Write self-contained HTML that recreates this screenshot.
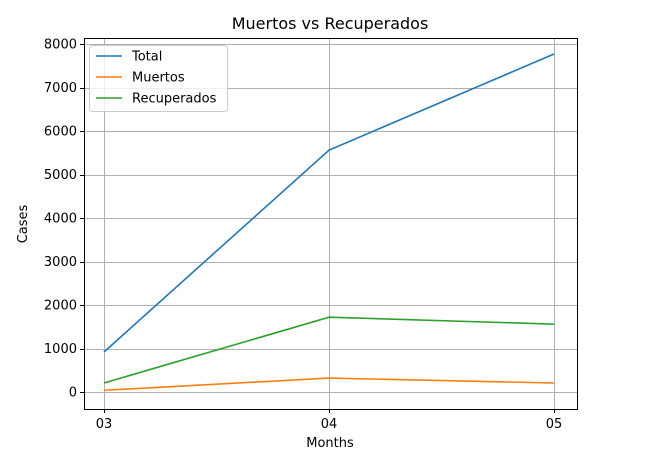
<!DOCTYPE html>
<html><head><meta charset="utf-8"><style>
body{margin:0;background:#fff}
svg{display:block;font-family:"DejaVu Sans","Liberation Sans",sans-serif}
</style></head><body>
<svg id="chart" width="670" height="460">
<text x="330" y="29" text-anchor="middle" font-size="16" fill="#000">Muertos vs Recuperados</text>
<g id="grid"></g>
<g id="lines"></g>
<rect x="84.5" y="38.5" width="493" height="371" fill="none" stroke="#000" stroke-width="1"/>
<g id="ticks"></g>
<text x="330" y="447" text-anchor="middle" font-size="13">Months</text>
<text transform="translate(27,224) rotate(-90)" text-anchor="middle" font-size="13">Cases</text>
<g id="legend">
<rect x="89.5" y="45.5" width="138" height="66" rx="3" fill="#fff" fill-opacity="0.8" stroke="#ccc"/>
</g>
</svg>
<script>
const categories=["03","04","05"];
const total=[920,5560,7770];
const muertos=[40,320,207];
const recuperados=[207,1720,1560];
const yTicks=[0,1000,2000,3000,4000,5000,6000,7000,8000];
const seriesNames=["Total","Muertos","Recuperados"];
const colors=["#1f77b4","#ff7f0e","#2ca02c"];
const NS="http://www.w3.org/2000/svg";
const x=i=>104+i*225;
const y=v=>392-v*0.0435;
const snap=p=>Math.round(p)+0.5;
function mk(t,a,p){const e=document.createElementNS(NS,t);for(const k in a)e.setAttribute(k,a[k]);p.appendChild(e);return e;}
const grid=document.getElementById('grid'),ticks=document.getElementById('ticks'),lines=document.getElementById('lines'),leg=document.getElementById('legend');
yTicks.forEach(v=>{
 const yy=snap(y(v));
 const l=mk('line',{x1:84,x2:577,y1:yy,y2:yy,stroke:'#b0b0b0','stroke-width':1},grid);
 
 
 mk('line',{x1:80,x2:84,y1:yy,y2:yy,stroke:'#000'},ticks);
 const t=mk('text',{x:77,y:y(v)+4.5,'text-anchor':'end','font-size':13},ticks);t.textContent=v;
 
 
});
categories.forEach((c,i)=>{
 const xx=snap(x(i));
 const l=mk('line',{x1:xx,x2:xx,y1:38,y2:409,stroke:'#b0b0b0','stroke-width':1},grid);
 
 
 mk('line',{x1:xx,x2:xx,y1:409,y2:413,stroke:'#000'},ticks);
 const t=mk('text',{x:x(i),y:428,'text-anchor':'middle','font-size':13},ticks);t.textContent=c;
 
 
});
[total,muertos,recuperados].forEach((s,k)=>{
 const p=mk('polyline',{points:s.map((v,i)=>x(i)+','+y(v)).join(' '),fill:'none',stroke:colors[k],'stroke-width':1.6},lines);
 
 
 const ly=56+k*21;
 mk('line',{x1:96,x2:122,y1:ly,y2:ly,stroke:colors[k],'stroke-width':1.6},leg);
 const t=mk('text',{x:132,y:ly+4.5,'font-size':13},leg);t.textContent=seriesNames[k];
 
 
});
</script>
</body></html>
